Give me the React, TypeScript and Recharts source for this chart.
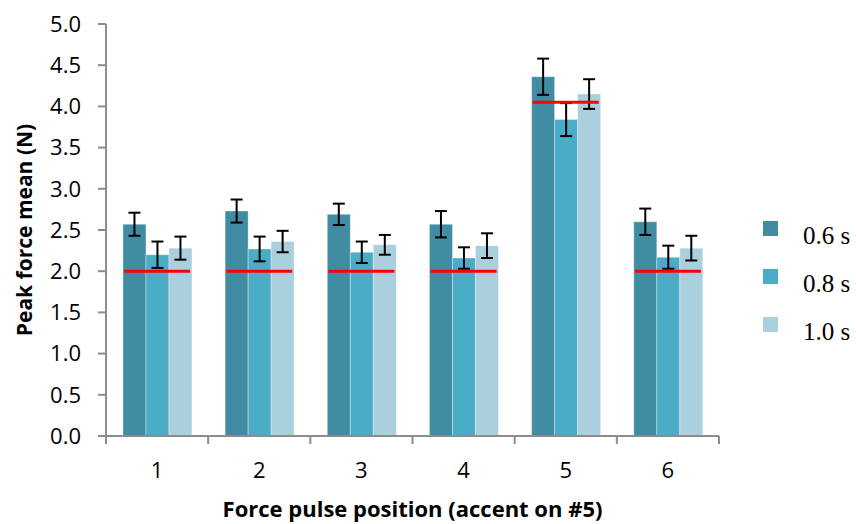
import { ComposedChart, Bar, Line, XAxis, YAxis, ErrorBar } from "recharts";

// pulse positions on the x axis
const positions = ["1", "2", "3", "4", "5", "6"];

// peak force means (N) per pulse interval
const mean06 = [2.57, 2.73, 2.69, 2.57, 4.36, 2.6];
const mean08 = [2.2, 2.27, 2.23, 2.16, 3.84, 2.17];
const mean10 = [2.28, 2.36, 2.32, 2.31, 4.15, 2.28];

// error bar half-lengths
const err06 = [0.14, 0.14, 0.13, 0.16, 0.22, 0.16];
const err08 = [0.16, 0.15, 0.13, 0.13, 0.2, 0.14];
const err10 = [0.14, 0.13, 0.12, 0.15, 0.18, 0.15];

// target force (red marks)
const target = [2.0, 2.0, 2.0, 2.0, 4.05, 2.0];

const yTicks = [0, 0.5, 1, 1.5, 2, 2.5, 3, 3.5, 4, 4.5, 5];
const seriesNames = ["0.6 s", "0.8 s", "1.0 s"];

const COLORS = ["#3f8ca3", "#4bacc6", "#aacfdd"];
const AXIS = "#8c8c8c";
const FONT = "'Open Sans', Lato, sans-serif";

const W = 856;
const H = 524;
const MARGIN = { top: 24, right: 137, bottom: 58, left: 46 };
const YAXIS_W = 60;
const XAXIS_H = 30;
const AXIS_Y = H - MARGIN.bottom - XAXIS_H;
const PLOT_LEFT = MARGIN.left + YAXIS_W;
const PLOT_RIGHT = W - MARGIN.right;
const PLOT_MID_Y = (MARGIN.top + AXIS_Y) / 2;

const data = positions.map((p, i) => ({
  pos: p,
  s06: mean06[i],
  s08: mean08[i],
  s10: mean10[i],
  e06: err06[i],
  e08: err08[i],
  e10: err10[i],
  target: target[i],
}));

function BoundaryTick(props: any) {
  const { x, payload, index, visibleTicksCount } = props;
  const half = payload?.offset ?? (PLOT_RIGHT - PLOT_LEFT) / positions.length / 2;
  const last = index === (visibleTicksCount ?? positions.length) - 1;
  return (
    <g>
      <line x1={x - half} x2={x - half} y1={AXIS_Y} y2={AXIS_Y + 8} stroke={AXIS} strokeWidth={2} />
      {last && <line x1={x + half} x2={x + half} y1={AXIS_Y} y2={AXIS_Y + 8} stroke={AXIS} strokeWidth={2} />}
      <text x={x} y={AXIS_Y + 42} textAnchor="middle" fontSize={22} fontFamily={FONT} fill="#000">
        {payload.value}
      </text>
    </g>
  );
}

function TargetMark(props: any) {
  const { cx, cy } = props;
  if (cx == null || cy == null) return <g />;
  return <line x1={cx - 33} x2={cx + 33} y1={cy} y2={cy} stroke="#ff0000" strokeWidth={3} />;
}

function SideLegend() {
  return (
    <div style={{ position: "absolute", left: 763, top: 221, width: 93, height: 130 }}>
      {seriesNames.map((name, i) => (
        <div key={name}>
          <div style={{ position: "absolute", left: 0, top: i * 48, width: 15, height: 15, background: COLORS[i] }} />
          <div
            style={{
              position: "absolute",
              left: 40,
              top: i * 48 - 1,
              fontFamily: "'Liberation Serif', serif",
              fontSize: 25,
              lineHeight: "32px",
              color: "#000",
              whiteSpace: "nowrap",
            }}
          >
            {name}
          </div>
        </div>
      ))}
    </div>
  );
}

export default function App() {
  return (
    <div style={{ position: "absolute", left: 0, top: 0, width: W, height: H, background: "#fff" }}>
      <ComposedChart width={W} height={H} data={data} margin={MARGIN} barCategoryGap="16.6%" barGap={0}>
        <XAxis
          dataKey="pos"
          height={XAXIS_H}
          axisLine={{ stroke: AXIS, strokeWidth: 2 }}
          tickLine={false}
          tick={<BoundaryTick />}
          interval={0}
          label={{
            content: () => (
              <text
                x={(PLOT_LEFT + PLOT_RIGHT) / 2}
                y={517}
                textAnchor="middle"
                fontSize={22}
                fontWeight="bold"
                fontFamily={FONT}
                fill="#000"
              >
                Force pulse position (accent on #5)
              </text>
            ),
          }}
        />
        <YAxis
          width={YAXIS_W}
          domain={[0, 5]}
          ticks={yTicks}
          interval={0}
          tickFormatter={(v: number) => v.toFixed(1)}
          axisLine={{ stroke: AXIS, strokeWidth: 2 }}
          tickLine={{ stroke: AXIS, strokeWidth: 2 }}
          tickSize={8}
          tickMargin={17}
          tick={{ fill: "#000", fontSize: 22, fontFamily: FONT }}
          label={{
            content: () => (
              <text
                x={24}
                y={PLOT_MID_Y}
                transform={`rotate(-90 24 ${PLOT_MID_Y})`}
                textAnchor="middle"
                dominantBaseline="central"
                fontSize={21}
                fontWeight="bold"
                fontFamily={FONT}
                fill="#000"
              >
                Peak force mean (N)
              </text>
            ),
          }}
        />
        <Bar dataKey="s06" name={seriesNames[0]} fill={COLORS[0]} stroke="rgba(255,255,255,0.35)" isAnimationActive={false}>
          <ErrorBar dataKey="e06" width={6} stroke="#000" strokeWidth={2} />
        </Bar>
        <Bar dataKey="s08" name={seriesNames[1]} fill={COLORS[1]} stroke="rgba(255,255,255,0.35)" isAnimationActive={false}>
          <ErrorBar dataKey="e08" width={6} stroke="#000" strokeWidth={2} />
        </Bar>
        <Bar dataKey="s10" name={seriesNames[2]} fill={COLORS[2]} stroke="rgba(255,255,255,0.35)" isAnimationActive={false}>
          <ErrorBar dataKey="e10" width={6} stroke="#000" strokeWidth={2} />
        </Bar>
        <Line
          dataKey="target"
          legendType="none"
          stroke="none"
          strokeWidth={0}
          dot={<TargetMark />}
          activeDot={false}
          isAnimationActive={false}
        />
      </ComposedChart>
      <SideLegend />
    </div>
  );
}
